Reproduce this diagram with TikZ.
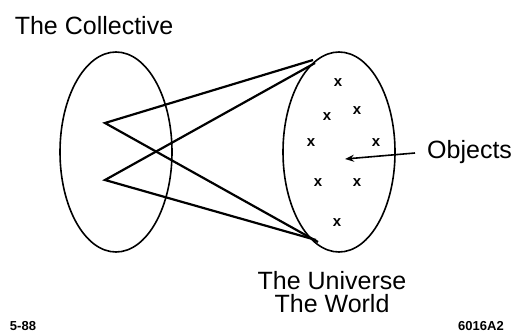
\documentclass[tikz,border=0pt]{standalone}
\usepackage{fontspec}
\setmainfont{Liberation Sans}
\usetikzlibrary{shapes.geometric,arrows.meta}
\tikzset{
  setel/.style={ellipse,draw,line width=1.6pt,minimum width=112pt,minimum height=200pt,inner sep=0pt},
  mapline/.style={line width=2.2pt,line join=miter},
  obj/.style={font=\fontsize{15}{15}\selectfont\bfseries,inner sep=0pt},
  lbl/.style={font=\fontsize{25}{25}\selectfont,inner sep=0pt},
  tag/.style={font=\fontsize{13}{13}\selectfont\bfseries,inner sep=0pt},
}
\begin{document}
\begin{tikzpicture}[x=1pt,y=-1pt]
\useasboundingbox (0,0) rectangle (529,332);
\node[setel] (coll) at (116,152) {};
\node[setel] (univ) at (339,152) {};
\coordinate (v1) at (105,123);
\coordinate (v2) at (105,180);
\coordinate (t1) at (313,60);
\coordinate (t2) at (315,63);
\coordinate (b1) at (318,242);
\coordinate (b2) at (316,240);
\draw[mapline] (t1) -- (v1) -- (b1);
\draw[mapline] (t2) -- (v2) -- (b2);
\node[obj] (x1) at (338,83) {x};
\node[obj] (x2) at (327,117) {x};
\node[obj] (x3) at (357,111) {x};
\node[obj] (x4) at (311,143) {x};
\node[obj] (x5) at (376,143) {x};
\node[obj] (x6) at (318,183) {x};
\node[obj] (x7) at (357,183) {x};
\node[obj] (x8) at (337,223) {x};
\coordinate (ctr) at (345,159);
\node[lbl,anchor=west] (objects) at (427,152) {Objects};
\draw[line width=1.6pt,-{Stealth[length=9pt,width=7pt]}] (objects.west) ++(-12,1) coordinate (as) (as) -- (ctr);
\node[lbl] (collective) at (94,26) {The Collective};
\node[lbl,align=center] (universe) at (332,292) {The Universe\\[-2pt]The World};
\node[tag] (date) at (23,326) {5-88};
\node[tag] (fig) at (481,326) {6016A2};
\end{tikzpicture}
\end{document}
